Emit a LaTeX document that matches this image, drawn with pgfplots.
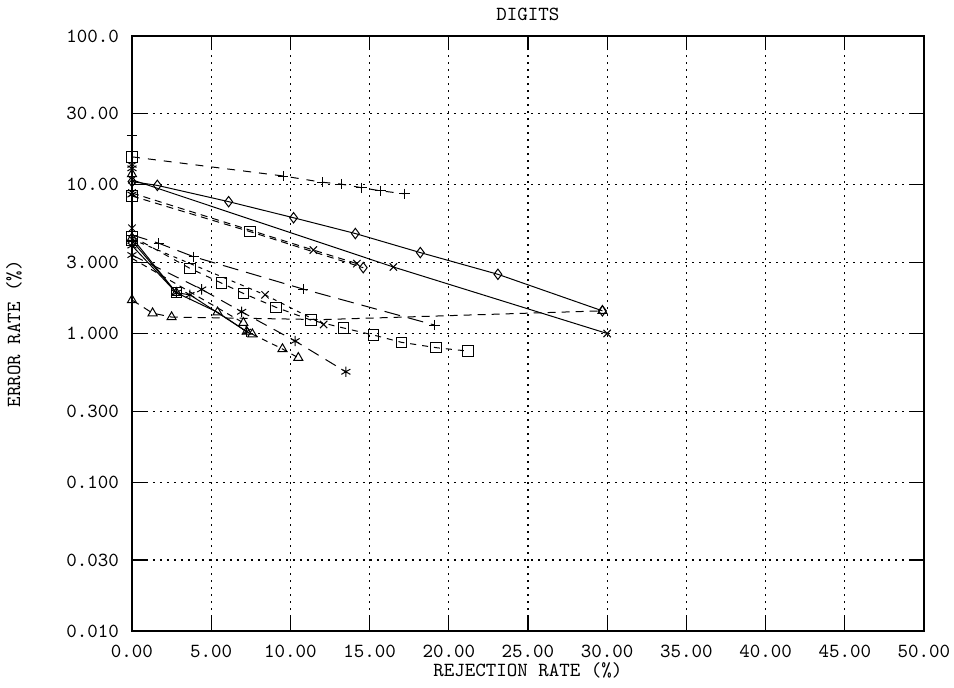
\documentclass[border=0pt]{standalone}
\usepackage{fontspec}
\usepackage{pgfplots}
\pgfplotsset{compat=1.18}
\usetikzlibrary{calc}

\begin{document}
\fontsize{10}{12}\ttfamily
\begin{tikzpicture}[font=\fontsize{10}{12}\ttfamily]
\begin{axis}[
    name=ax,
    scale only axis,
    width=396pt,
    height=297.5pt,
    xmin=0, xmax=50,
    ymode=log,
    ymin=0.01, ymax=100,
    xtick={0,5,10,15,20,25,30,35,40,45,50},
    xticklabels={0.00,5.00,10.00,15.00,20.00,25.00,30.00,35.00,40.00,45.00,50.00},
    ytick={0.01,0.03,0.1,0.3,1,3,10,30,100},
    yticklabels={0.010,0.030,0.100,0.300,1.000,3.000,10.00,30.00,100.0},
    xticklabel style={yshift=-3.5pt},
    yticklabel style={xshift=-3pt},
    minor tick num=0,
    tick align=inside,
    major tick length=7pt,
    xtick pos=both,
    ytick pos=both,
    tick style={black, line width=0.6pt},
    axis line style={line width=1pt},
    grid=major,
    grid style={black, line width=0.6pt, dash pattern=on 1pt off 2.5pt},
    title={DIGITS},
    every axis title/.style={at={(axis description cs:0.5,1.037)}, anchor=center},
    xlabel={REJECTION RATE (\%)},
    ylabel={ERROR RATE (\%)},
    every axis x label/.style={at={(axis description cs:0.5,-0.0656)}, anchor=center},
    every axis y label/.style={at={(axis description cs:-0.149,0.5)}, rotate=90, anchor=center},
    every axis plot/.append style={black, line width=0.5pt, mark size=2.6pt, mark options={solid, line width=0.5pt}},
]
% upper group
\addplot[dash pattern=on 4pt off 4pt, mark=+, mark indices={2,3,4,5,6,7}] coordinates {
 (0,15.4) (9.55,11.45) (12.0,10.4) (13.2,10.1) (14.5,9.55) (15.7,9.1) (17.2,8.7)};
\addplot[only marks, mark=square] coordinates {(0,15.4)};
\addplot[only marks, mark=+] coordinates {(0,21.3)};
\addplot[only marks, mark=asterisk] coordinates {(0,13.6) (0,12.9)};
\addplot[only marks, mark=triangle] coordinates {(0,11.8)};
\addplot[mark=diamond] coordinates {
 (0,10.5) (1.6,9.9) (6.1,7.7) (10.2,6.0) (14.1,4.7) (18.2,3.5) (23.1,2.5) (29.7,1.42)};
\addplot[mark=x] coordinates {(0,10.8) (16.5,2.8) (30.0,1.0)};
\addplot[dash pattern=on 3.5pt off 2.5pt, mark=square, mark indices={1,2}] coordinates {
 (0,8.4) (7.45,4.84) (14.6,2.77)};
\addplot[only marks, mark=diamond] coordinates {(14.6,2.77)};
\addplot[dash pattern=on 3.5pt off 2.5pt, mark=x] coordinates {
 (0,8.8) (11.45,3.64) (14.2,2.95)};
\addplot[only marks, mark=asterisk] coordinates {(0,8.6)};
% lower group
\addplot[dash pattern=on 8pt off 4pt, mark=+, mark indices={2,3,4,5}] coordinates {
 (0,4.6) (1.7,4.04) (3.9,3.28) (10.8,1.99) (19.1,1.14)};
\addplot[only marks, mark=x] coordinates {(0,5.1)};
\addplot[dash pattern=on 3pt off 3pt, mark=square] coordinates {
 (0,4.5) (3.66,2.74) (5.66,2.18) (7.03,1.86) (9.09,1.50) (11.3,1.23) (13.34,1.09)
 (15.24,0.977) (17.0,0.873) (19.2,0.803) (21.2,0.762)};
\addplot[dash pattern=on 2pt off 2.5pt, mark=x] coordinates {
 (0,4.3) (8.4,1.82) (12.1,1.15)};
\addplot[mark=square] coordinates {(0,4.2) (2.8,1.88)};
\addplot[mark=triangle] coordinates {
 (0,4.4) (2.8,1.88) (5.4,1.39) (7.24,1.03)};
\addplot[mark=asterisk] coordinates {(0,3.9) (2.8,1.88) (3.66,1.82) (7.24,1.03)};
\addplot[dash pattern=on 6pt off 4pt, mark=asterisk] coordinates {
 (0,3.37) (4.4,1.98) (6.92,1.40) (10.3,0.89) (13.5,0.553)};
\addplot[dash pattern=on 3pt off 2.5pt, mark=triangle, mark indices={2,3,4,5}] coordinates {
 (0,3.2) (7.03,1.18) (7.6,0.99) (9.5,0.787) (10.5,0.687)};
\addplot[dash pattern=on 4pt off 3pt, mark=triangle, mark indices={1,2,3,5}] coordinates {
 (0,1.68) (1.3,1.37) (2.5,1.29) (12.0,1.24) (29.7,1.42)};
\end{axis}
\pgfresetboundingbox
\path ($(ax.south west)+(-66pt,-28pt)$) rectangle ($(ax.south west)+(411pt,315.5pt)$);
\end{tikzpicture}
\end{document}
